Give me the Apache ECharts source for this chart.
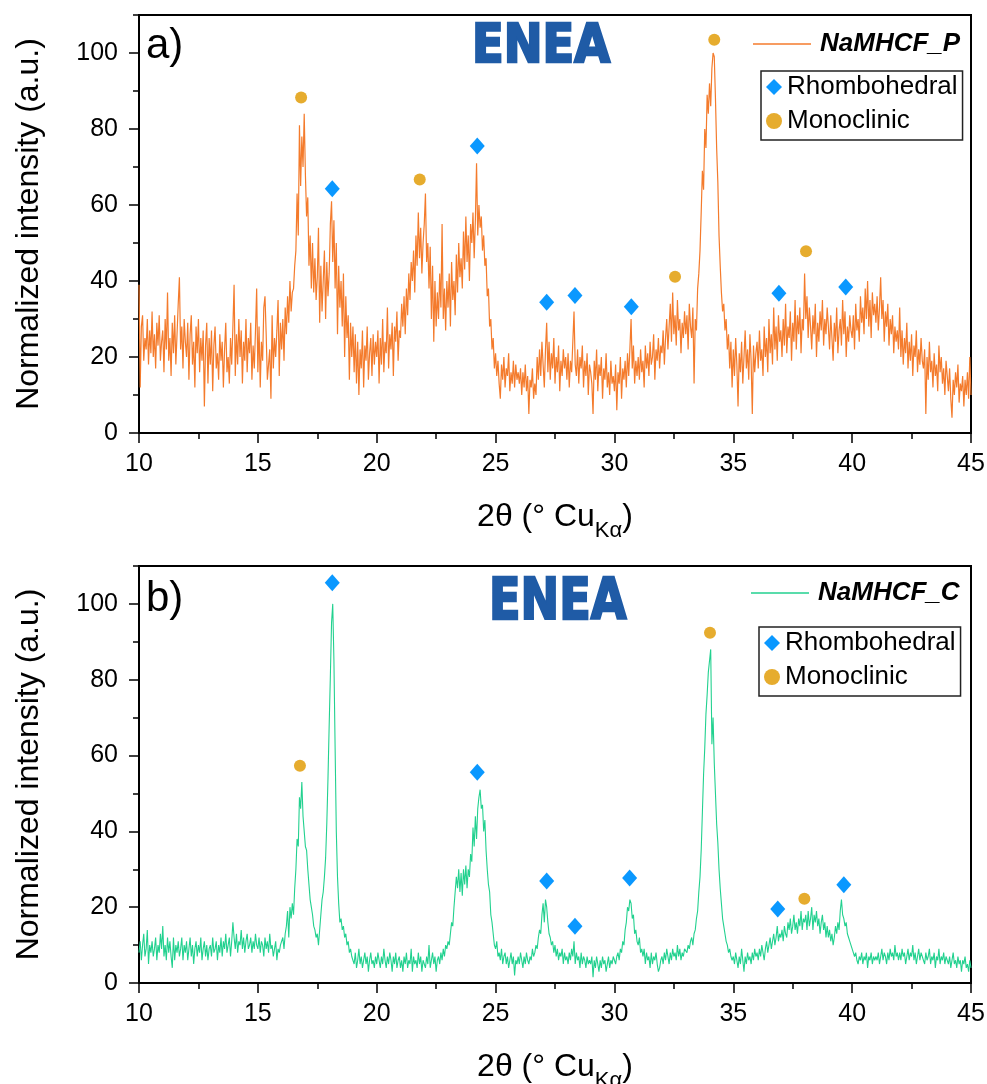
<!DOCTYPE html>
<html>
<head>
<meta charset="utf-8">
<script src="https://cdn.jsdelivr.net/npm/echarts@6/dist/echarts.min.js"></script>
<style>
html,body{margin:0;padding:0;background:#fff;}
#chart{width:987px;height:1084px;}
</style>
</head>
<body>
<div id="chart"></div>
<script>
// ---- DATA ----
// 2θ scan from 10° to 45°, 0.05° step; one row per degree (20 points), last row = 45.00°
const intensityP = [
 [39,12,28,31,19,25,22,30,18,27,21,32,20,26,17,29,23,31,19,24],
 [27,16,30,22,37,19,25,15,29,21,31,18,26,34,41,22,28,17,30,24],
 [20,29,14,26,31,18,24,12,28,21,30,16,25,19,27,7,23,29,13,25],
 [18,27,11,23,28,17,21,14,26,19,24,12,22,29,16,20,13,25,18,28],
 [39,15,26,18,30,20,27,13,24,19,30,16,25,21,29,14,23,17,27,38],
 [16,28,12,24,19,33,36,26,14,18,22,9,31,17,25,20,27,35,15,29],
 [22,30,19,33,26,36,29,40,32,37,38,44,48,63,52,81,65,78,70,84],
 [68,57,62,44,52,38,50,37,46,35,41,54,29,44,32,40,48,30,45,36],
 [42,55,61,45,56,38,50,26,44,33,40,28,42,20,36,25,31,14,29,20],
 [28,16,26,13,24,10,22,17,27,12,23,19,28,14,21,25,15,26,18,24],
 [20,27,13,25,18,30,16,24,21,33,17,26,22,29,15,28,24,32,19,27],
 [25,34,28,36,26,38,31,42,35,45,40,48,37,52,44,58,46,54,42,50],
 [55,63,45,50,38,49,30,44,24,40,28,37,30,42,33,55,30,38,27,40],
 [33,42,28,45,35,40,31,47,37,50,41,46,38,53,43,57,45,52,40,55],
 [50,58,46,56,71,52,60,54,57,48,52,44,46,36,38,28,30,22,25,17],
 [21,15,19,13,9,18,14,20,12,17,15,21,11,16,13,19,12,18,14,16],
 [13,17,10,16,12,18,11,15,5,14,12,17,9,13,10,20,14,22,15,24],
 [18,12,22,29,16,24,14,21,17,25,13,20,16,23,11,19,15,22,17,20],
 [14,21,12,19,16,24,32,18,15,22,13,20,17,23,12,19,15,21,10,18],
 [16,13,5,19,14,22,11,18,15,20,9,17,14,21,12,16,10,19,13,15],
 [11,18,6,16,13,20,9,17,14,19,12,21,15,22,30,17,23,13,19,15],
 [20,14,22,16,19,12,23,17,21,15,24,18,20,26,14,22,19,25,17,23],
 [21,27,18,25,30,22,28,34,24,37,26,31,23,35,27,30,21,29,25,32],
 [26,31,22,34,28,25,33,13,30,27,38,42,48,58,69,64,80,75,89,84],
 [92,86,96,100,99,88,75,66,52,44,37,32,34,27,30,22,26,17,24,12],
 [22,15,25,18,7,21,16,24,13,20,27,17,22,14,26,19,5,23,16,21],
 [24,17,27,19,22,15,28,20,25,16,30,21,26,18,33,22,28,19,31,24],
 [27,20,30,23,34,21,28,25,32,19,29,24,35,22,31,26,33,21,30,27],
 [42,30,36,25,33,28,22,31,26,34,20,29,24,32,27,35,23,30,26,33],
 [28,22,31,25,19,29,24,33,21,27,30,23,35,26,32,20,28,24,31,27],
 [25,31,22,34,27,30,24,36,29,33,26,38,30,40,28,35,25,37,31,34],
 [29,36,27,33,41,30,35,24,32,28,34,23,30,26,31,21,28,24,27,22],
 [33,20,27,18,25,21,29,17,24,19,26,15,23,20,27,16,22,18,25,19],
 [17,22,5,20,14,24,16,19,12,21,15,18,11,23,16,20,13,17,10,19],
 [15,11,17,9,4,14,10,16,12,18,8,13,11,15,7,14,10,16,9,20],
 [10]
];
const intensityC = [
 [8,11,6,10,13,7,9,14,5,10,8,11,7,9,12,6,10,8,13,9],
 [15,7,10,6,12,8,11,7,4,12,6,10,8,11,7,9,12,6,10,8],
 [11,6,9,12,7,10,5,9,11,7,10,8,12,6,9,11,7,10,6,9],
 [10,7,12,8,9,11,6,10,8,12,7,11,9,13,8,10,12,7,11,16],
 [12,9,13,8,11,10,14,9,12,8,11,13,9,10,12,8,11,9,13,10],
 [9,12,8,11,10,7,12,9,11,8,13,9,10,7,9,11,6,9,8,10],
 [10,12,9,13,15,19,12,20,17,21,18,25,30,38,36,49,46,53,44,40],
 [36,35,30,26,22,20,18,15,14,12,13,10,14,18,22,24,28,33,42,54],
 [68,81,95,100,85,62,40,28,21,16,17,14,15,12,13,10,11,8,9,7],
 [7,5,8,4,6,9,5,7,4,6,8,5,7,3,6,8,5,6,4,7],
 [5,8,6,4,7,5,9,6,4,7,5,8,6,3,7,5,8,4,6,7],
 [4,6,3,7,5,8,4,6,5,9,3,7,5,6,4,8,5,7,3,6],
 [6,4,7,5,10,4,6,8,5,7,3,6,7,5,8,6,9,7,10,9],
 [11,10,13,16,15,20,24,28,25,30,24,29,23,30,26,31,25,30,28,34],
 [32,41,36,44,38,46,49,51,46,47,40,43,35,30,26,24,18,16,13,10],
 [9,11,7,8,6,9,5,7,8,5,7,4,6,8,5,7,2,6,5,7],
 [5,8,6,4,7,5,8,6,5,7,6,9,7,8,10,9,12,14,13,18],
 [21,16,22,20,16,13,12,10,11,8,10,7,9,6,8,7,9,5,8,6],
 [7,5,8,6,9,7,11,5,8,6,7,4,8,5,7,6,4,7,5,6],
 [5,7,1.5,6,4,7,5,3,6,4,7,5,6,3,5,7,4,6,5,7],
 [6,5,7,8,6,9,8,11,10,14,16,20,19,22,21,17,18,13,14,11],
 [10,12,8,9,7,9,5,8,6,7,4,8,5,7,6,8,5,3,4,6],
 [7,5,8,6,9,7,5,8,6,9,7,8,6,10,7,9,6,8,7,9],
 [9,8,10,9,11,12,10,13,14,17,19,24,28,35,45,55,62,71,76,82],
 [85,88,63,70,58,50,42,37,30,25,21,17,15,13,11,10,8,9,7,6],
 [7,5,8,6,4,7,5,9,6,3,7,5,8,6,7,5,8,6,9,7],
 [8,6,9,7,10,8,6,9,11,8,10,12,9,11,13,10,12,15,11,13],
 [12,14,11,15,13,12,16,14,17,13,15,18,14,16,13,17,15,19,14,17],
 [16,18,14,19,15,17,20,14,18,16,19,15,17,13,16,18,14,16,12,15],
 [12,14,11,13,10,12,15,13,16,14,19,22,18,17,15,16,13,12,11,10],
 [9,8,7,8,6,5,7,6,8,5,7,6,8,4,7,6,8,5,7,6],
 [7,6,8,5,7,9,6,8,7,5,8,6,9,7,8,6,10,7,8,6],
 [8,6,9,7,8,5,7,9,6,8,7,10,6,8,5,7,9,6,8,7],
 [7,5,8,6,7,9,5,7,6,8,4,7,6,9,5,7,6,8,5,7],
 [6,5,7,4,6,8,5,6,4,7,5,6,3,6,5,7,4,5,3,6],
 [4]
];
const scanStart = 10, scanStep = 0.05;

// Reflection markers (2θ, label height)
const rhombP_x = [18.13, 24.23, 27.15, 28.34, 30.71, 36.92, 39.73];
const rhombP_y = [64.3, 75.5, 34.4, 36.2, 33.2, 36.8, 38.4];
const monoP_x  = [16.82, 21.81, 32.55, 34.20, 38.06];
const monoP_y  = [88.3, 66.7, 41.1, 103.5, 47.8];
const rhombC_x = [18.13, 24.23, 27.15, 28.34, 30.64, 36.87, 39.65];
const rhombC_y = [105.6, 55.6, 26.9, 15.0, 27.7, 19.5, 25.9];
const monoC_x  = [16.77, 34.02, 37.99];
const monoC_y  = [57.3, 92.4, 22.2];

const xTicks = [10, 15, 20, 25, 30, 35, 40, 45];
const yTicks = [0, 20, 40, 60, 80, 100];

// ---- BUILD ----
function scan(rows) {
  const out = [];
  rows.forEach((row, r) => row.forEach((v, j) => {
    out.push([+(scanStart + r + j * scanStep).toFixed(2), v]);
  }));
  return out;
}
function pairs(xs, ys) { return xs.map((x, i) => [x, ys[i]]); }

const FONT = "'Liberation Sans', Arial, sans-serif";
const ORANGE = '#F47B2C', GREEN = '#22D18F', BLUE = '#0A98FF', GOLD = '#E6AC2E', LOGO = '#1F5BA6';

const grids = [
  {left: 139, top: 15, width: 832, height: 418},
  {left: 139, top: 566, width: 832, height: 417}
];

function xAxisFor(g) {
  return {
    type: 'value', gridIndex: g, min: 10, max: 45, interval: 5,
    axisLine: {show: true, onZero: false, lineStyle: {color: '#000', width: 2}},
    axisTick: {show: true, inside: false, length: 10, lineStyle: {color: '#000', width: 1.5}},
    minorTick: {show: true, splitNumber: 2, length: 6, lineStyle: {color: '#000', width: 1.5}},
    axisLabel: {fontSize: 25, color: '#000', fontFamily: FONT, margin: 19},
    splitLine: {show: false},
    name: '2θ (° Cu{sub|Kα})', nameLocation: 'middle', nameGap: 59,
    nameTextStyle: {fontSize: 32, color: '#000', fontFamily: FONT, lineHeight: 50,
      rich: {sub: {fontSize: 22, lineHeight: 22, verticalAlign: 'bottom', color: '#000', fontFamily: FONT}}}
  };
}
function yAxesFor(g) {
  return [{
    type: 'value', gridIndex: g, position: 'left', min: 0, max: 110, interval: 10,
    axisLine: {show: true, onZero: false, lineStyle: {color: '#000', width: 2}},
    axisTick: {show: true, inside: false, length: 6, lineStyle: {color: '#000', width: 1.5}},
    axisLabel: {show: false}, splitLine: {show: false}
  }, {
    type: 'value', gridIndex: g, position: 'left', min: 0, max: 110, interval: 20,
    axisLine: {show: false},
    axisTick: {show: true, inside: false, length: 10, customValues: yTicks, lineStyle: {color: '#000', width: 1.5}},
    axisLabel: {show: true, customValues: yTicks, fontSize: 25, color: '#000', fontFamily: FONT, margin: 21,
      formatter: v => (v > 100 ? '' : String(v))},
    splitLine: {show: false},
    name: 'Normalized intensity (a.u.)', nameLocation: 'middle', nameGap: 94, nameRotate: 90,
    nameTextStyle: {fontSize: 32, color: '#000', fontFamily: FONT, lineHeight: 32}
  }];
}

function lineLegend(name, left, top) {
  return {data: [{name: name, icon: 'rect'}], left: left, top: top, padding: 0, itemWidth: 58, itemHeight: 1.5,
    textStyle: {fontSize: 26, fontWeight: 'bold', fontStyle: 'italic', color: '#000', fontFamily: FONT, padding: [0, 0, 0, 4]}};
}
function phaseLegend(left, top) {
  return {data: ['Rhombohedral', 'Monoclinic'], orient: 'vertical', left: left, top: top, padding: [3, 5, 6, 5],
    borderColor: '#222', borderWidth: 1.5, itemWidth: 16, itemHeight: 16, itemGap: 8,
    textStyle: {fontSize: 26, color: '#000', fontFamily: FONT}};
}

const option = {
  animation: false,
  backgroundColor: '#fff',
  grid: grids.map(g => Object.assign({show: true, borderColor: '#000', borderWidth: 2, backgroundColor: 'transparent',
    containLabel: false, outerBoundsMode: 'none'}, g)),
  xAxis: [xAxisFor(0), xAxisFor(1)],
  yAxis: [...yAxesFor(0), ...yAxesFor(1)],
  legend: [lineLegend('NaMHCF_P', 753, 31), phaseLegend(761, 71), lineLegend('NaMHCF_C', 751, 580), phaseLegend(759, 627)],
  series: [
    {name: 'NaMHCF_P', type: 'line', xAxisIndex: 0, yAxisIndex: 0, data: scan(intensityP),
     symbol: 'none', showSymbol: false, lineStyle: {color: ORANGE, width: 1.2}, itemStyle: {color: ORANGE}, z: 2},
    {name: 'NaMHCF_C', type: 'line', xAxisIndex: 1, yAxisIndex: 2, data: scan(intensityC),
     symbol: 'none', showSymbol: false, lineStyle: {color: GREEN, width: 1.1}, itemStyle: {color: GREEN}, z: 2},
    {name: 'Rhombohedral', type: 'scatter', xAxisIndex: 0, yAxisIndex: 0, data: pairs(rhombP_x, rhombP_y),
     symbol: 'diamond', symbolSize: [15, 17], itemStyle: {color: BLUE, opacity: 1}, z: 3},
    {name: 'Monoclinic', type: 'scatter', xAxisIndex: 0, yAxisIndex: 0, data: pairs(monoP_x, monoP_y),
     symbol: 'circle', symbolSize: 12, itemStyle: {color: GOLD, opacity: 1}, z: 3},
    {name: 'Rhombohedral', type: 'scatter', xAxisIndex: 1, yAxisIndex: 2, data: pairs(rhombC_x, rhombC_y),
     symbol: 'diamond', symbolSize: [15, 17], itemStyle: {color: BLUE, opacity: 1}, z: 3},
    {name: 'Monoclinic', type: 'scatter', xAxisIndex: 1, yAxisIndex: 2, data: pairs(monoC_x, monoC_y),
     symbol: 'circle', symbolSize: 12, itemStyle: {color: GOLD, opacity: 1}, z: 3}
  ],
  graphic: [
    {type: 'text', x: 146, y: 46, z: 10, style: {text: 'a)', fontSize: 42, fontFamily: FONT, fill: '#000', align: 'left', verticalAlign: 'middle'}},
    {type: 'text', x: 146, y: 599, z: 10, style: {text: 'b)', fontSize: 42, fontFamily: FONT, fill: '#000', align: 'left', verticalAlign: 'middle'}},
    {type: 'text', x: 472, y: 48, scaleX: 0.875, z: 10, style: {text: 'ENEA', fontSize: 53, fontWeight: 'bold', fontFamily: "'DejaVu Sans', sans-serif", fill: LOGO, stroke: LOGO, lineWidth: 2.5, align: 'left', verticalAlign: 'middle'}},
    {type: 'text', x: 489, y: 604, scaleX: 0.81, z: 10, style: {text: 'ENEA', fontSize: 57, fontWeight: 'bold', fontFamily: "'DejaVu Sans', sans-serif", fill: LOGO, stroke: LOGO, lineWidth: 2.5, align: 'left', verticalAlign: 'middle'}}
  ]
};

const chart = echarts.init(document.getElementById('chart'), null, {renderer: 'canvas'});
chart.setOption(option);
</script>
</body>
</html>
